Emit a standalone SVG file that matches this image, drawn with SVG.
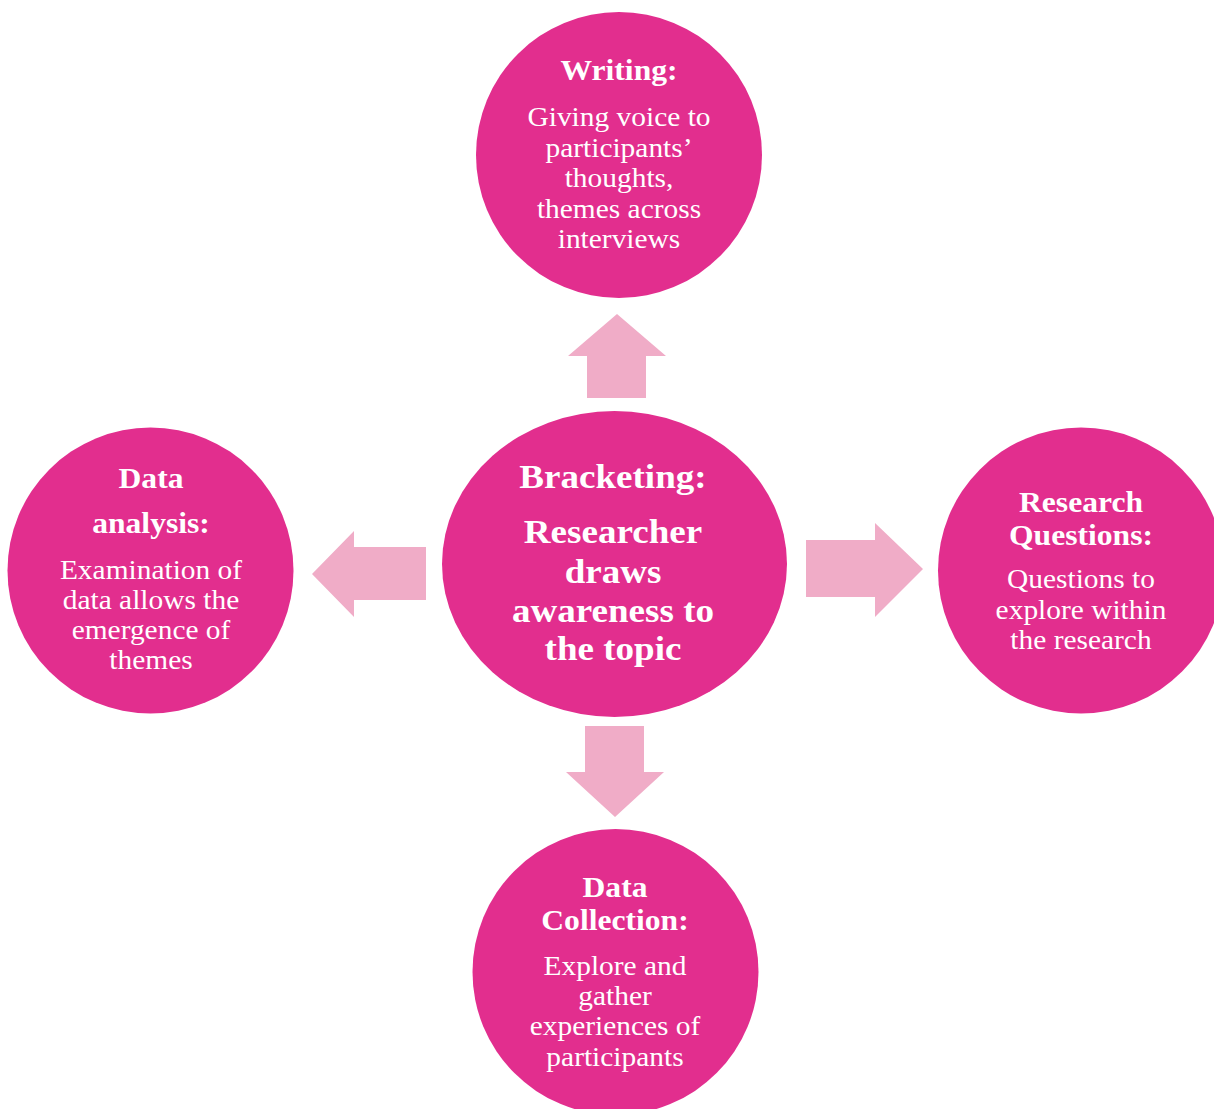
<svg xmlns="http://www.w3.org/2000/svg" width="1214" height="1109" viewBox="0 0 1214 1109">
<style>
.node{fill:#E22E8E}
.arrow{fill:#F0ACC7}
text{fill:#FFFFFF;font-family:"Liberation Serif","Times New Roman",serif;text-anchor:middle}
.t{font-weight:bold;font-size:29px}
.b{font-size:27px}
.c{font-weight:bold;font-size:34px}
</style>
<rect width="1214" height="1109" fill="#FFFFFF"/>
<g id="connectors">
<polygon class="arrow" points="617,314 666,356 646,356 646,398 587,398 587,356 568,356"/>
<polygon class="arrow" points="312,574 354,531 354,547 426,547 426,600 354,600 354,617"/>
<polygon class="arrow" points="806,540 875,540 875,523 923,569 875,617 875,597 806,597"/>
<polygon class="arrow" points="585,726 644,726 644,772 664,772 615,817 566,772 585,772"/>
</g>
<g id="node-writing">
<circle class="node" cx="619" cy="155" r="143"/>
<g transform="translate(619 0) scale(1.09 1)">
<text class="t" x="0" y="80">Writing:</text>
<text class="b" x="0" y="126">Giving voice to</text>
<text class="b" x="0" y="157">participants’</text>
<text class="b" x="0" y="187">thoughts,</text>
<text class="b" x="0" y="218">themes across</text>
<text class="b" x="0" y="248">interviews</text>
</g>
</g>
<g id="node-bracketing">
<ellipse class="node" cx="614.5" cy="564" rx="172.5" ry="153"/>
<g transform="translate(613 0) scale(1.09 1)">
<text class="c" x="0" y="488">Bracketing:</text>
<text class="c" x="0" y="543">Researcher</text>
<text class="c" x="0" y="583">draws</text>
<text class="c" x="0" y="622">awareness to</text>
<text class="c" x="0" y="660">the topic</text>
</g>
</g>
<g id="node-data-analysis">
<circle class="node" cx="150.5" cy="570.5" r="143"/>
<g transform="translate(151 0) scale(1.09 1)">
<text class="t" x="0" y="488">Data</text>
<text class="t" x="0" y="533">analysis:</text>
<text class="b" x="0" y="579">Examination of</text>
<text class="b" x="0" y="609">data allows the</text>
<text class="b" x="0" y="639">emergence of</text>
<text class="b" x="0" y="669">themes</text>
</g>
</g>
<g id="node-research-questions">
<circle class="node" cx="1081" cy="570.5" r="143"/>
<g transform="translate(1081 0) scale(1.09 1)">
<text class="t" x="0" y="512">Research</text>
<text class="t" x="0" y="545">Questions:</text>
<text class="b" x="0" y="588">Questions to</text>
<text class="b" x="0" y="619">explore within</text>
<text class="b" x="0" y="649">the research</text>
</g>
</g>
<g id="node-data-collection">
<circle class="node" cx="615.5" cy="972" r="143"/>
<g transform="translate(615 0) scale(1.09 1)">
<text class="t" x="0" y="897">Data</text>
<text class="t" x="0" y="930">Collection:</text>
<text class="b" x="0" y="975">Explore and</text>
<text class="b" x="0" y="1005">gather</text>
<text class="b" x="0" y="1035">experiences of</text>
<text class="b" x="0" y="1066">participants</text>
</g>
</g>
</svg>
